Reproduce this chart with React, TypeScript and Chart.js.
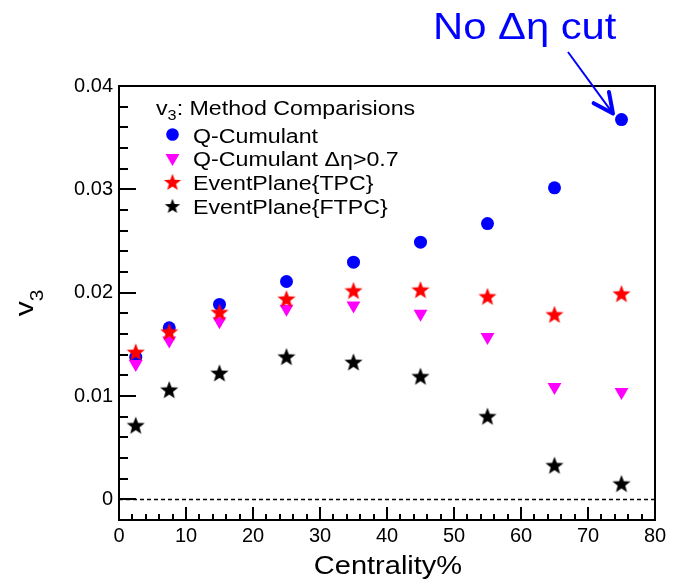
import React, { useEffect, useRef } from 'react';
import { Chart, registerables } from 'chart.js';

Chart.register(...registerables);

// ---------------- data ----------------
const centrality = [2.5, 7.5, 15, 25, 35, 45, 55, 65, 75];
const qCumulant = [0.01376, 0.0166, 0.01886, 0.02108, 0.02295, 0.02489, 0.02669, 0.03015, 0.03675];
const qCumulantEta = [0.0131, 0.01538, 0.01724, 0.01844, 0.01876, 0.01796, 0.0157, 0.01086, 0.01038];
const epTPC = [0.01425, 0.01622, 0.01811, 0.0194, 0.0202, 0.02028, 0.01963, 0.01789, 0.0199];
const epFTPC = [0.00716, 0.0106, 0.01222, 0.0138, 0.01328, 0.0119, 0.00803, 0.00329, 0.00152];

const xTickValues = [0, 10, 20, 30, 40, 50, 60, 70, 80];
const yTickValues = [0, 0.01, 0.02, 0.03, 0.04];
const yTickLabels = ['0', '0.01', '0.02', '0.03', '0.04'];

const seriesLabels = ['Q-Cumulant', 'Q-Cumulant \u0394\u03b7>0.7', 'EventPlane{TPC}', 'EventPlane{FTPC}'];
const legendTitleRest = ': Method Comparisions';
const xTitle = 'Centrality%';
const annotationText = 'No \u0394\u03b7 cut';

const FONT = "'Liberation Sans', Arial, Helvetica, sans-serif";
const SX = 1.16;

function makeStar(color: string, outer: number): HTMLCanvasElement {
  const size = Math.ceil(outer) * 2 + 2;
  const c = document.createElement('canvas');
  c.width = size;
  c.height = size;
  const ctx = c.getContext('2d')!;
  const cx = size / 2;
  const cy = size / 2 + outer * 0.08;
  const inner = outer * 0.42;
  ctx.beginPath();
  for (let i = 0; i < 10; i++) {
    const r = i % 2 === 0 ? outer : inner;
    const a = -Math.PI / 2 + (i * Math.PI) / 5;
    const px = cx + r * Math.cos(a);
    const py = cy + r * Math.sin(a);
    if (i === 0) ctx.moveTo(px, py);
    else ctx.lineTo(px, py);
  }
  ctx.closePath();
  ctx.fillStyle = color;
  ctx.fill();
  return c;
}

function sText(ctx: CanvasRenderingContext2D, text: string, x: number, y: number, size: number, color: string): number {
  ctx.save();
  ctx.font = `${size}px ${FONT}`;
  ctx.fillStyle = color;
  ctx.textBaseline = 'alphabetic';
  ctx.textAlign = 'left';
  ctx.translate(x, y);
  ctx.scale(SX, 1);
  ctx.fillText(text, 0, 0);
  const w = ctx.measureText(text).width * SX;
  ctx.restore();
  return w;
}

export default function App() {
  const ref = useRef<HTMLCanvasElement | null>(null);

  useEffect(() => {
    if (!ref.current) return;
    const redStar = makeStar('#ff0000', 9.5);
    const blackStar = makeStar('#000000', 9.5);
    const redStarL = makeStar('#ff0000', 9);
    const blackStarL = makeStar('#000000', 8);

    const decor = {
      id: 'decor',
      beforeDatasetsDraw(chart: any) {
        const { ctx, chartArea, scales } = chart;
        const y0 = Math.round(scales.y.getPixelForValue(0)) + 0.5;
        ctx.save();
        ctx.strokeStyle = '#000';
        ctx.lineWidth = 1.5;
        ctx.setLineDash([4, 3]);
        ctx.beginPath();
        ctx.moveTo(chartArea.left, y0);
        ctx.lineTo(chartArea.right, y0);
        ctx.stroke();
        ctx.restore();
      },
      afterDraw(chart: any) {
        const { ctx, chartArea, scales } = chart;
        const { left, right, top, bottom } = chartArea;
        const xs = scales.x;
        const ys = scales.y;
        ctx.save();
        // frame
        ctx.strokeStyle = '#000';
        ctx.lineWidth = 2;
        ctx.strokeRect(left, top, right - left, bottom - top);
        // x ticks (inward)
        ctx.beginPath();
        for (let v = 0; v <= 80; v += 2) {
          const px = Math.round(xs.getPixelForValue(v));
          const len = v % 10 === 0 ? 13 : 6;
          ctx.moveTo(px, bottom);
          ctx.lineTo(px, bottom - len);
        }
        // y ticks (inward)
        for (let k = 0; k <= 20; k++) {
          const v = k * 0.002;
          const py = Math.round(ys.getPixelForValue(v));
          const len = k % 5 === 0 ? 17 : 9;
          ctx.moveTo(left, py);
          ctx.lineTo(left + len, py);
        }
        ctx.stroke();
        ctx.restore();

        // x title
        ctx.save();
        ctx.font = `25px ${FONT}`;
        const wT = ctx.measureText(xTitle).width * SX;
        ctx.restore();
        sText(ctx, xTitle, (left + right) / 2 - wT / 2 + 1, 574, 25, '#000');

        // y title v_3 (rotated)
        ctx.save();
        ctx.font = `26px ${FONT}`;
        const wv = ctx.measureText('v').width * SX;
        ctx.font = `18px ${FONT}`;
        const w3 = ctx.measureText('3').width * SX;
        const total = wv + w3;
        const cy = (top + bottom) / 2;
        ctx.translate(33, cy + total / 2);
        ctx.rotate(-Math.PI / 2);
        sText(ctx, 'v', 0, 0, 26, '#000');
        sText(ctx, '3', wv, 10, 18, '#000');
        ctx.restore();

        // legend
        let hx = 156;
        hx += sText(ctx, 'v', hx, 115, 20, '#000');
        hx += sText(ctx, '3', hx, 120, 14, '#000');
        sText(ctx, legendTitleRest, hx, 115, 20, '#000');
        const rows = [134.5, 158, 182, 206];
        const mx = 172.5;
        ctx.save();
        ctx.fillStyle = '#0000ff';
        ctx.beginPath();
        ctx.arc(mx, rows[0], 6.3, 0, Math.PI * 2);
        ctx.fill();
        ctx.fillStyle = '#ff00ff';
        ctx.beginPath();
        const r = 8;
        for (let i = 0; i < 3; i++) {
          const a = Math.PI + (i * 2 * Math.PI) / 3;
          const px = mx + Math.sin(a) * r;
          const py = rows[1] - Math.cos(a) * r;
          if (i === 0) ctx.moveTo(px, py);
          else ctx.lineTo(px, py);
        }
        ctx.closePath();
        ctx.fill();
        ctx.drawImage(redStarL, mx - redStarL.width / 2, rows[2] - redStarL.height / 2);
        ctx.drawImage(blackStarL, mx - blackStarL.width / 2, rows[3] - blackStarL.height / 2);
        ctx.restore();
        seriesLabels.forEach((t, i) => sText(ctx, t, 193, rows[i] + 8, 20, '#000'));

        // annotation
        sText(ctx, annotationText, 433, 39, 36, '#0000ff');
        const tipX = xs.getPixelForValue(centrality[8]) - 8.5;
        const tipY = ys.getPixelForValue(qCumulant[8]) - 6;
        const sx0 = 568;
        const sy0 = 52;
        ctx.save();
        ctx.strokeStyle = '#0000ff';
        ctx.lineWidth = 2;
        ctx.beginPath();
        ctx.moveTo(sx0, sy0);
        ctx.lineTo(tipX, tipY);
        ctx.stroke();
        const back = Math.atan2(sy0 - tipY, sx0 - tipX);
        const armLen = 22;
        const spread = (25.5 * Math.PI) / 180;
        ctx.lineWidth = 4;
        ctx.lineCap = 'round';
        ctx.lineJoin = 'round';
        ctx.beginPath();
        ctx.moveTo(tipX + Math.cos(back - spread) * armLen, tipY + Math.sin(back - spread) * armLen);
        ctx.lineTo(tipX, tipY);
        ctx.lineTo(tipX + Math.cos(back + spread) * armLen, tipY + Math.sin(back + spread) * armLen);
        ctx.stroke();
        ctx.restore();
      },
    };

    const mk = (ys: number[]) => centrality.map((x, i) => ({ x, y: ys[i] }));

    const chart = new Chart(ref.current, {
      type: 'scatter',
      data: {
        datasets: [
          {
            label: seriesLabels[0],
            data: mk(qCumulant),
            pointStyle: 'circle',
            pointRadius: 6.5,
            backgroundColor: '#0000ff',
            borderWidth: 0,
            order: 4,
          },
          {
            label: seriesLabels[1],
            data: mk(qCumulantEta),
            pointStyle: 'triangle',
            rotation: 180,
            pointRadius: 8,
            backgroundColor: '#ff00ff',
            borderWidth: 0,
            order: 3,
          },
          {
            label: seriesLabels[2],
            data: mk(epTPC),
            pointStyle: redStar as any,
            backgroundColor: '#ff0000',
            borderWidth: 0,
            order: 2,
          },
          {
            label: seriesLabels[3],
            data: mk(epFTPC),
            pointStyle: blackStar as any,
            backgroundColor: '#000000',
            borderWidth: 0,
            order: 1,
          },
        ],
      } as any,
      options: {
        animation: false,
        responsive: false,
        events: [],
        layout: { padding: { left: 0, top: 86, right: 25, bottom: 0 } },
        plugins: { legend: { display: false }, tooltip: { enabled: false } },
        scales: {
          x: {
            type: 'linear',
            min: 0,
            max: 80,
            grid: { display: false, drawTicks: false },
            border: { display: false },
            afterBuildTicks: (s: any) => {
              s.ticks = xTickValues.map((v) => ({ value: v }));
            },
            afterFit: (s: any) => {
              s.height = 62;
            },
            ticks: {
              autoSkip: false,
              maxRotation: 0,
              padding: 4,
              color: '#000',
              font: { family: FONT, size: 20 },
              callback: (v: any) => String(v),
            },
          },
          y: {
            type: 'linear',
            min: -0.002,
            max: 0.04,
            grid: { display: false, drawTicks: false },
            border: { display: false },
            afterBuildTicks: (s: any) => {
              s.ticks = yTickValues.map((v) => ({ value: v }));
            },
            afterFit: (s: any) => {
              s.width = 119;
            },
            ticks: {
              autoSkip: false,
              padding: 6,
              color: '#000',
              font: { family: FONT, size: 20 },
              callback: (v: any) => {
                const i = yTickValues.findIndex((t) => Math.abs(t - v) < 1e-9);
                return i >= 0 ? yTickLabels[i] : '';
              },
            },
          },
        },
      } as any,
      plugins: [decor],
    });
    return () => chart.destroy();
  }, []);

  return (
    <div style={{ position: 'fixed', left: 0, top: 0, width: 680, height: 582, background: '#fff' }}>
      <canvas ref={ref} width={680} height={582} style={{ display: 'block', width: 680, height: 582 }} />
    </div>
  );
}
